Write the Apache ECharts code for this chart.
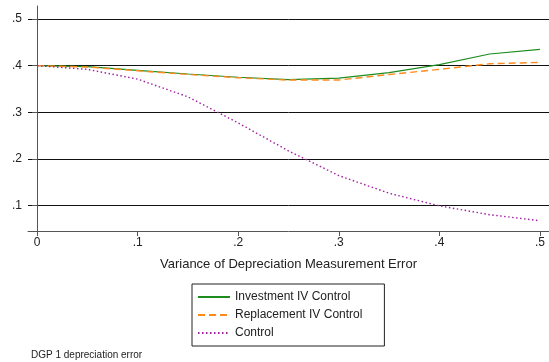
<!DOCTYPE html>
<html>
<head>
<meta charset="utf-8">
<script src="https://cdn.jsdelivr.net/npm/echarts@6/dist/echarts.min.js"></script>
<style>
  html, body { margin: 0; padding: 0; background: #fff; }
  #main { width: 549px; height: 362px; }
</style>
</head>
<body>
<div id="main"></div>
<script>
  // data
  var xs = [0, 0.05, 0.1, 0.15, 0.2, 0.25, 0.3, 0.35, 0.4, 0.45, 0.5];
  var investIV = [0.400, 0.398, 0.390, 0.382, 0.375, 0.370, 0.373, 0.385, 0.402, 0.425, 0.435];
  var replaceIV = [0.400, 0.397, 0.389, 0.381, 0.374, 0.369, 0.369, 0.381, 0.392, 0.404, 0.407];
  var control = [0.400, 0.392, 0.371, 0.333, 0.277, 0.217, 0.164, 0.126, 0.099, 0.080, 0.067];
  var xTicks = [0, 0.1, 0.2, 0.3, 0.4, 0.5];
  var yTicks = [0.1, 0.2, 0.3, 0.4, 0.5];

  function pairs(vals) {
    return xs.map(function (x, i) { return [x, vals[i]]; });
  }
  function stataLabel(v) {
    if (v === 0) return '0';
    return String(Math.round(v * 10) / 10).replace(/^0/, '');
  }

  var myChart = echarts.init(document.getElementById('main'));

  var option = {
    backgroundColor: '#fff',
    animation: false,
    textStyle: { fontFamily: 'Liberation Sans, Arial, sans-serif' },
    title: {
      text: 'DGP 1 depreciation error',
      left: 26, top: 345,
      textStyle: { fontSize: 10, fontWeight: 'normal', color: '#222' }
    },
    legend: {
      orient: 'vertical',
      left: 192, top: 284,
      padding: [7, 22, 7, 5],
      itemGap: 6,
      itemWidth: 32, itemHeight: 12,
      borderColor: '#222', borderWidth: 1,
      borderRadius: 0,
      itemStyle: { opacity: 0 },
      textStyle: { fontSize: 12, color: '#222' },
      data: ['Investment IV Control', 'Replacement IV Control', 'Control']
    },
    grid: { left: 28, top: 6, right: 0, bottom: 131 },
    xAxis: {
      type: 'value',
      min: -0.009, max: 0.509,
      name: 'Variance of Depreciation Measurement Error',
      nameLocation: 'middle',
      nameGap: 27,
      nameTextStyle: { fontSize: 13, color: '#222' },
      axisLine: { show: true, lineStyle: { color: '#555', width: 1 } },
      axisTick: { show: true, length: 5, lineStyle: { color: '#555' }, customValues: xTicks },
      axisLabel: { fontSize: 12, color: '#222', margin: 6, formatter: stataLabel, customValues: xTicks },
      splitLine: { show: false }
    },
    yAxis: {
      type: 'value',
      min: 0.045, max: 0.528,
      axisLine: { show: true, lineStyle: { color: '#555', width: 1 } },
      axisTick: { show: true, length: 5, lineStyle: { color: '#555' }, customValues: yTicks },
      axisLabel: { fontSize: 12, color: '#222', margin: 6, formatter: stataLabel, customValues: yTicks },
      splitLine: { show: true, lineStyle: { color: '#111', width: 1 } }
    },
    series: [
      {
        name: 'Investment IV Control',
        type: 'line',
        data: pairs(investIV),
        showSymbol: false,
        symbol: 'none',
        color: '#1e8c1e',
        lineStyle: { color: '#1e8c1e', width: 1.2, type: 'solid' }
      },
      {
        name: 'Replacement IV Control',
        type: 'line',
        data: pairs(replaceIV),
        showSymbol: false,
        symbol: 'none',
        color: '#ff8a1c',
        lineStyle: { color: '#ff8a1c', width: 1.4, type: [7, 4] }
      },
      {
        name: 'Control',
        type: 'line',
        data: pairs(control),
        showSymbol: false,
        symbol: 'none',
        color: '#a020a0',
        lineStyle: { color: '#a020a0', width: 1.4, type: [1.5, 2.5] }
      }
    ]
  };

  myChart.setOption(option);
</script>
</body>
</html>
